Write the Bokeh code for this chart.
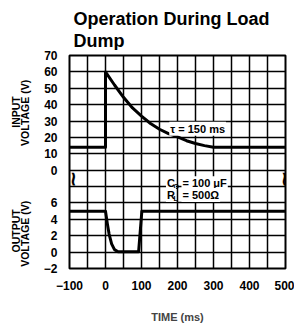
import math
from bokeh.plotting import figure
from bokeh.layouts import column, row
from bokeh.models import Range1d, FixedTicker, Label
from bokeh.core.properties import value
from bokeh.embed import file_html
from bokeh.resources import INLINE

# ---- data ----
time_in = [-100, 0, 0, 25, 50, 75, 100, 125, 150, 175, 200, 225, 250, 275, 300, 500]
v_in = [14, 14, 60, 52, 44.5, 38, 33, 28.5, 25, 22.3, 20.3, 18, 16.3, 15, 14, 14]

time_out = [-100, 0, 5, 10, 17, 25, 35, 92, 101, 500]
v_out = [5, 5, 3.5, 2.2, 1.0, 0.3, 0.05, 0.05, 5, 5]

x_ticks = [-100, 0, 100, 200, 300, 400, 500]
x_tick_labels = ["\u2212100", "0", "100", "200", "300", "400", "500"]
vin_ticks = [0, 10, 20, 30, 40, 50, 60, 70]
vout_ticks = [-2, 0, 2, 4, 6]
vout_tick_labels = ["\u22122", "0", "2", "4", "6"]

title_lines = ["Operation During Load", "Dump"]
ylab_outer = ["INPUT", "OUTPUT"]
ylab_inner = ["VOLTAGE (V)", "VOLTAGE (V)"]

# ---- layout: 13 grid rows, input and output share one frame ----
NROWS = 13
VIN_START, VIN_END = -60, 70
VOUT_START, VOUT_END = -2, 24

W, H = 294, 325
TITLE_H = 50
LAB_W = 40
MAIN_W = W - LAB_W
MAIN_H = H - TITLE_H
TOP, BOTTOM = 5, 55
FONT = "Liberation Sans"


def row_of(v, start, end):
    return (v - start) / (end - start) * NROWS


rows_range = Range1d(0, NROWS)

p = figure(width=MAIN_W, height=MAIN_H,
           x_range=Range1d(-100, 500), y_range=rows_range,
           output_backend="svg", toolbar_location=None,
           min_border_left=28, min_border_right=9,
           min_border_top=TOP, min_border_bottom=BOTTOM)
p.extra_y_ranges = {"vin": Range1d(VIN_START, VIN_END),
                    "vout": Range1d(VOUT_START, VOUT_END)}

p.background_fill_color = "white"
p.border_fill_color = "white"
p.outline_line_color = "black"
p.outline_line_width = 2

# grid
p.xgrid.ticker = FixedTicker(ticks=list(range(-100, 501, 50)))
p.ygrid.ticker = FixedTicker(ticks=list(range(0, NROWS + 1)))
for g in (p.xgrid, p.ygrid):
    g.grid_line_color = "black"
    g.grid_line_width = 1.5
    g.grid_line_alpha = 1.0

# y axis labels (one column for both panels)
yrows = [row_of(v, VOUT_START, VOUT_END) for v in vout_ticks] + \
        [row_of(v, VIN_START, VIN_END) for v in vin_ticks]
ylabels = vout_tick_labels + [str(v) for v in vin_ticks]
p.yaxis.ticker = FixedTicker(ticks=yrows)
p.yaxis.major_label_overrides = {r: l for r, l in zip(yrows, ylabels)}

p.xaxis.ticker = FixedTicker(ticks=x_ticks)
p.xaxis.major_label_overrides = {t: l for t, l in zip(x_ticks, x_tick_labels)}
p.xaxis.axis_label = "TIME (ms)"
p.xaxis.axis_label_text_font = FONT
p.xaxis.axis_label_text_font_style = "bold"
p.xaxis.axis_label_text_font_size = "11px"
p.xaxis.axis_label_standoff = 18

for ax in (p.xaxis[0], p.yaxis[0]):
    ax.axis_line_color = None
    ax.major_tick_line_color = None
    ax.minor_tick_line_color = None
    ax.major_label_text_font = FONT
    ax.major_label_text_font_style = "bold"
    ax.major_label_text_font_size = "12px"
    ax.major_label_text_color = "black"
    ax.major_label_standoff = 6

# curves
p.line(time_in, v_in, y_range_name="vin", line_width=3, line_color="black",
       line_join="round")
p.line(time_out, v_out, y_range_name="vout", line_width=3, line_color="black",
       line_join="round")


def lab(fig, x, y, text, size="11px", font=FONT, style="bold",
        align="left", baseline="alphabetic", angle=0, bg=None):
    kw = dict(x=x, y=y, text=text, text_font=font, text_font_style=style,
              text_font_size=size, text_align=align, text_baseline=baseline,
              angle=angle, text_color="black")
    if bg:
        kw.update(background_fill_color=bg, padding=1)
    fig.add_layout(Label(**kw))


# annotations inside the grid
lab(p, 256, 8.53, "\u03c4 = 150 ms", size="11px", align="center",
    baseline="middle", bg="white")
lab(p, 168, 5.2, "C", size="11px", bg="white")
lab(p, 189, 5.0, "O", size="7px")
lab(p, 211, 5.2, "= 100 \u03bcF", size="11px", bg="white")
lab(p, 168, 4.48, "R", size="11px", bg="white")
lab(p, 189, 4.28, "L", size="7px")
lab(p, 211, 4.48, "= 500\u03a9", size="11px", bg="white")

# axis break marks
lab(p, -92, 5.45, "~", size="20px", font="DejaVu Sans", style="bold",
    align="center", baseline="middle", angle=math.pi / 2)
lab(p, 492, 5.45, "~", size="20px", font="DejaVu Sans", style="bold",
    align="center", baseline="middle", angle=math.pi / 2)

# ---- left strip with the rotated axis titles ----
lf = figure(width=LAB_W, height=MAIN_H, x_range=Range1d(0, LAB_W),
            y_range=rows_range, output_backend="svg", toolbar_location=None,
            x_axis_type=None, y_axis_type=None,
            min_border_left=0, min_border_right=0,
            min_border_top=TOP, min_border_bottom=BOTTOM)
lf.outline_line_color = None
lf.background_fill_color = "white"
lf.border_fill_color = "white"
lf.text(x=[15, 15], y=[9.55, 2.3], text=ylab_outer, angle=math.pi / 2,
        text_font=value(FONT), text_font_style="bold", text_font_size="10.5px",
        text_align="center", text_baseline="middle", text_color="black")
lf.text(x=[24, 24], y=[9.5, 2.12], text=ylab_inner, angle=math.pi / 2,
        text_font=value(FONT), text_font_style="bold", text_font_size="10.5px",
        text_align="center", text_baseline="middle", text_color="black")

# ---- title strip ----
tf = figure(width=W, height=TITLE_H, x_range=Range1d(0, W),
            y_range=Range1d(TITLE_H, 0), output_backend="svg",
            toolbar_location=None, x_axis_type=None, y_axis_type=None,
            min_border=0)
tf.outline_line_color = None
tf.background_fill_color = "white"
tf.border_fill_color = "white"
tf.text(x=[73, 73], y=[18.5, 40.5], text=title_lines,
        text_font=value(FONT), text_font_style="bold", text_font_size="18px",
        text_align="left", text_baseline="alphabetic", text_color="black")

layout = column(tf, row(lf, p))
open("out.html", "w").write(file_html(layout, INLINE))
